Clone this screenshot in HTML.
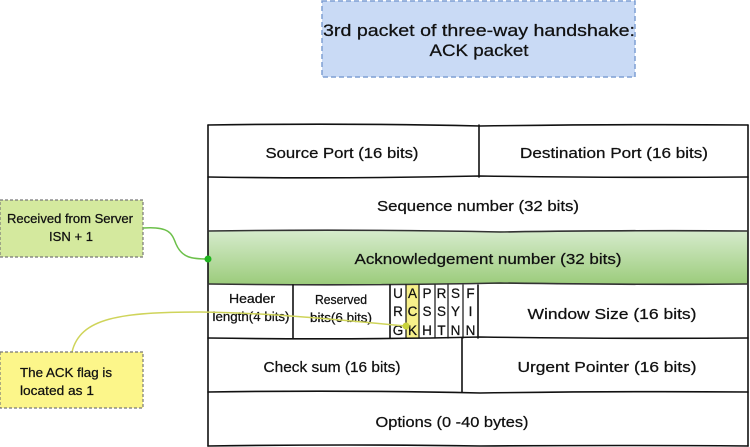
<!DOCTYPE html>
<html>
<head>
<meta charset="utf-8">
<style>
html,body{margin:0;padding:0;background:#fff;}
svg{display:block;}
text{font-family:"Liberation Sans",sans-serif;fill:#111;stroke:#111;stroke-width:0.25;}
</style>
</head>
<body>
<svg width="750" height="447" viewBox="0 0 750 447" xmlns="http://www.w3.org/2000/svg">
<defs>
<linearGradient id="gr" x1="0" y1="0" x2="0" y2="1">
<stop offset="0" stop-color="#d6ebcc"/>
<stop offset="1" stop-color="#9ccc7c"/>
</linearGradient>
</defs>

<!-- Title box -->
<rect x="322" y="1" width="313" height="76" fill="#c9daf5" stroke="#7f9fd4" stroke-width="1.5" stroke-dasharray="5,3"/>
<text x="479" y="36" font-size="17" text-anchor="middle" textLength="312" lengthAdjust="spacingAndGlyphs">3rd packet of three-way handshake:</text>
<text x="479" y="56" font-size="17" text-anchor="middle" textLength="99" lengthAdjust="spacingAndGlyphs">ACK packet</text>

<!-- Green row fill -->
<rect x="208" y="231" width="540" height="53" fill="url(#gr)"/>
<!-- ACK flag highlight -->
<rect x="406" y="285" width="13" height="53" fill="#f7f08a"/>

<!-- Table lines -->
<g stroke="#111" stroke-width="1.6" fill="none" stroke-linecap="round">
<path d="M208 125 Q350 123 480 126 Q620 124 748 125"/>
<path d="M208 125 L208 446"/>
<path d="M748 125 L748 446"/>
<path d="M208 177 Q340 179 480 176 Q620 178 748 177"/>
<path d="M479 125 L479 177"/>
<path d="M208 231 Q360 229 500 232 Q640 230 748 231" stroke="#333"/>
<path d="M208 284 Q360 286 500 283 Q640 285 748 284" stroke="#333"/>
<path d="M208 338 Q350 340 480 337 Q620 339 748 338"/>
<path d="M293 285 L293 338"/>
<path d="M390 285 L390 338"/>
<path d="M406 285 L406 338" stroke-width="1.2"/>
<path d="M419 285 L419 338" stroke-width="1.2"/>
<path d="M435 285 L435 338" stroke-width="1.2"/>
<path d="M448 285 L448 338" stroke-width="1.2"/>
<path d="M463 285 L463 338" stroke-width="1.2"/>
<path d="M478 285 L478 338"/>
<path d="M462 338 L462 392"/>
<path d="M208 392 Q350 390 480 393 Q620 391 748 392"/>
<path d="M208 446 Q350 444 480 446 Q620 445 748 446"/>
</g>

<!-- Table text -->
<text x="342" y="158" font-size="14.5" text-anchor="middle" textLength="153" lengthAdjust="spacingAndGlyphs">Source Port (16 bits)</text>
<text x="614" y="158" font-size="14.5" text-anchor="middle" textLength="188" lengthAdjust="spacingAndGlyphs">Destination Port (16 bits)</text>
<text x="478" y="211" font-size="14.5" text-anchor="middle" textLength="202" lengthAdjust="spacingAndGlyphs">Sequence number (32 bits)</text>
<text x="488" y="264" font-size="14.5" text-anchor="middle" textLength="267" lengthAdjust="spacingAndGlyphs">Acknowledgement number (32 bits)</text>

<text x="252" y="303" font-size="12.5" text-anchor="middle" textLength="46" lengthAdjust="spacingAndGlyphs">Header</text>
<text x="251" y="321" font-size="12.5" text-anchor="middle" textLength="77" lengthAdjust="spacingAndGlyphs">length(4 bits)</text>
<text x="341" y="304" font-size="12.5" text-anchor="middle" textLength="52" lengthAdjust="spacingAndGlyphs">Reserved</text>
<text x="341" y="322" font-size="12.5" text-anchor="middle" textLength="62" lengthAdjust="spacingAndGlyphs">bits(6 bits)</text>

<g font-size="13.5" text-anchor="middle" style="stroke-width:0.4">
<text x="398" y="298">U</text><text x="398" y="316">R</text><text x="398" y="335">G</text>
<text x="412.5" y="298">A</text><text x="412.5" y="316">C</text><text x="412.5" y="335">K</text>
<text x="427" y="298">P</text><text x="427" y="316">S</text><text x="427" y="335">H</text>
<text x="441.5" y="298">R</text><text x="441.5" y="316">S</text><text x="441.5" y="335">T</text>
<text x="455.5" y="298">S</text><text x="455.5" y="316">Y</text><text x="455.5" y="335">N</text>
<text x="470.5" y="298">F</text><text x="470.5" y="316">I</text><text x="470.5" y="335">N</text>
</g>

<text x="612" y="319" font-size="14.5" text-anchor="middle" textLength="169" lengthAdjust="spacingAndGlyphs">Window Size (16 bits)</text>
<text x="332" y="372" font-size="14.5" text-anchor="middle" textLength="137" lengthAdjust="spacingAndGlyphs">Check sum (16 bits)</text>
<text x="607" y="372" font-size="14.5" text-anchor="middle" textLength="179" lengthAdjust="spacingAndGlyphs">Urgent Pointer (16 bits)</text>
<text x="452" y="427" font-size="14.5" text-anchor="middle" textLength="153" lengthAdjust="spacingAndGlyphs">Options (0 -40 bytes)</text>

<!-- Green annotation -->
<rect x="0" y="200" width="143" height="57" fill="#d4e99e" stroke="#777" stroke-width="1.2" stroke-dasharray="3,2"/>
<text x="70" y="223" font-size="12.5" text-anchor="middle" textLength="126" lengthAdjust="spacingAndGlyphs">Received from Server</text>
<text x="71" y="241" font-size="12.5" text-anchor="middle" textLength="44" lengthAdjust="spacingAndGlyphs">ISN + 1</text>
<path d="M143 228 C170 226 172 234 176 244 C182 258 192 259 208 259" stroke="#6cc04a" stroke-width="1.5" fill="none"/>
<circle cx="208" cy="259" r="3.5" fill="#1fb51f"/>

<!-- Yellow annotation -->
<path d="M72 352 C80 318 120 312 200 312 C280 313 360 322 406 326" stroke="#cfd45a" stroke-width="1.5" fill="none"/>
<circle cx="406" cy="326" r="3.5" fill="#c8d23a"/>
<rect x="0" y="352" width="143" height="56" fill="#fcf68a" stroke="#777" stroke-width="1.2" stroke-dasharray="3,2"/>
<text x="20" y="377" font-size="12.5" textLength="92" lengthAdjust="spacingAndGlyphs">The ACK flag is</text>
<text x="20" y="395" font-size="12.5" textLength="74" lengthAdjust="spacingAndGlyphs">located as 1</text>
</svg>
</body>
</html>
